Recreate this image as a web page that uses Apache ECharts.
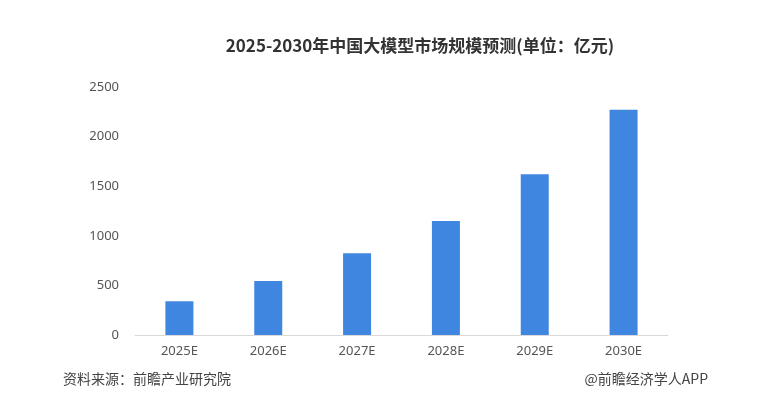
<!DOCTYPE html>
<html><head><meta charset="utf-8">
<script src="https://cdn.jsdelivr.net/npm/echarts@6/dist/echarts.min.js"></script>
<style>html,body{margin:0;padding:0;background:#fff}#c{width:760px;height:409px}</style>
</head><body><div id="c"></div>
<script>
const categories = ['2025E','2026E','2027E','2028E','2029E','2030E'];
const values = [340, 545, 825, 1150, 1620, 2270];
const yTicks = [0, 500, 1000, 1500, 2000, 2500];
const titleText = '2025-2030年中国大模型市场规模预测(单位：亿元)';
const sourceText = '资料来源：前瞻产业研究院';
const brandText = '@前瞻经济学人APP';

const chart = echarts.init(document.getElementById('c'));
chart.setOption({
  backgroundColor: '#fff',
  animation: false,
  title: {
    text: titleText, left: 415, top: 32, textAlign: 'center',
    textStyle: {fontFamily: 'Noto Sans CJK SC', fontSize: 17, fontWeight: 'bold', color: '#333'}
  },
  graphic: [
    {type: 'text', left: 63, top: 372, style: {text: sourceText, fontFamily: 'Noto Sans CJK SC', fontSize: 14, fill: '#444'}},
    {type: 'text', right: 52, top: 372, style: {text: brandText, fontFamily: 'Noto Sans CJK SC', fontSize: 14, fill: '#444'}}
  ],
  grid: {left: 135, right: 92, top: 87, bottom: 74},
  xAxis: {
    type: 'category', data: categories,
    axisLine: {lineStyle: {color: '#d9d9d9'}},
    axisTick: {show: false},
    axisLabel: {color: '#555', fontSize: 13, fontFamily: 'Noto Sans', margin: 10}
  },
  yAxis: {
    type: 'value', min: yTicks[0], max: yTicks[yTicks.length - 1], interval: 500,
    axisLine: {show: false}, axisTick: {show: false}, splitLine: {show: false},
    axisLabel: {color: '#555', fontSize: 13, fontFamily: 'Noto Sans', margin: 16,
      formatter: v => String(v)}
  },
  series: [{
    type: 'bar', data: values, barWidth: 28,
    itemStyle: {color: '#3f86e0'}
  }]
});
</script></body></html>
